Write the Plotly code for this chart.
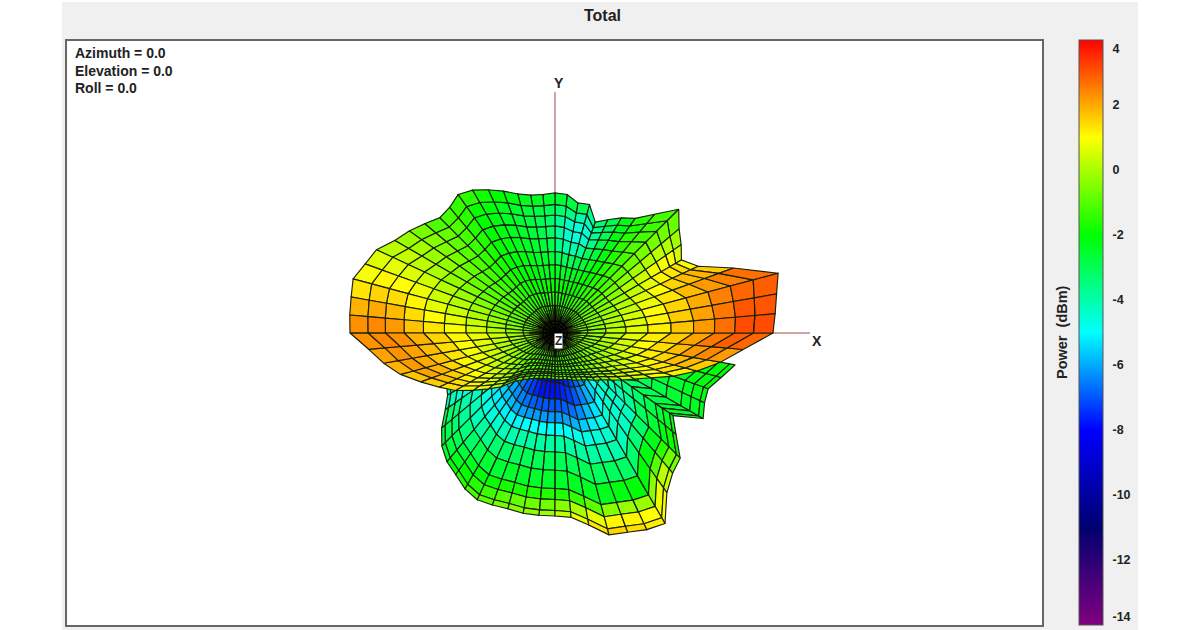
import plotly.graph_objects as go
from plotly.colors import sample_colorscale
import math

W, H = 1200, 630
CX, CY = 555, 333          # pixel position of the pattern origin
PLOT_L, PLOT_R, PLOT_T, PLOT_B = 67, 1042, 41, 625

CMIN, CMAX = -14.0, 4.0
stops = [(-14, "#800080"), (-11, "#000070"), (-8, "#0000ff"), (-5, "#00ffff"),
         (-2, "#00ff00"), (1, "#ffff00"), (4, "#ff0000")]

tick_vals = [3.75, 2, 0, -2, -4, -6, -8, -10, -12, -13.75]
tick_text = ["4", "2", "0", "-2", "-4", "-6", "-8", "-10", "-12", "-14"]

# ---- front hemisphere: outline radius at each azimuth step (5 deg) ----
front_az = list(range(0, 360, 5))
front_radius = [218, 221, 225, 231, 190, 158, 146, 154, 162, 175, 155, 140,
                133, 125, 118, 133, 132, 139, 140, 139, 140, 144, 151, 158,
                165, 169, 164, 163, 170, 178, 185, 197, 202, 209, 207, 206,
                205, 187, 174, 160, 143, 128, 115, 100, 87, 76, 63, 57,
                53, 50, 48, 47, 46, 46, 46, 47, 47, 48, 50, 52,
                54, 57, 62, 66, 73, 82, 92, 106, 126, 147, 168, 189]
# the same lobe without its jags: the inner rings follow this one
front_smooth = [218, 218, 212, 205, 195, 186, 178, 173, 171, 168, 160, 152,
                146, 141, 138, 136, 136, 138, 140, 140, 141, 144, 151, 158,
                163, 167, 165, 165, 170, 178, 185, 193, 200, 205, 207, 206,
                205, 187, 174, 160, 143, 128, 115, 100, 87, 76, 63, 57,
                53, 50, 48, 47, 46, 46, 46, 47, 47, 48, 50, 52,
                54, 57, 62, 66, 73, 82, 92, 106, 126, 147, 168, 189]
front_rings = [0, .085, .175, .265, .36, .46, .56, .66, .75, .835, .915, 1]
ring_weight = [0, .3, .4, .5, .6, .7, .8, .85, .9, .95, .98, 1]
jag_weight = [0, 0, 0, 0, 0, .05, .15, .3, .45, .6, .8, 1]

front_power = [
 [-.8,-.6,-.3,.2,.7,1.2,1.7,2.2,2.7,3.1,3.1],
 [-.8,-.6,-.3,.1,.6,1.1,1.6,2.1,2.6,3.0,3.0],
 [-.8,-.7,-.4,0,.5,1,1.5,2,2.5,2.8,2.9],
 [-.8,-.8,-.5,-.1,.3,.8,1.3,1.8,2.2,2.5,2.7],
 [-.9,-.8,-.6,-.3,.1,.6,1,1.5,1.8,1.9,1.6],
 [-1,-.9,-.8,-.5,-.1,.3,.7,1.1,1.3,1.4,1.0],
 [-1.1,-1,-.9,-.7,-.4,.1,.4,.8,.9,.9,.5],
 [-1.1,-1.1,-1.1,-.9,-.7,-.4,-.1,.1,.2,.1,-.1],
 [-1.1,-1.2,-1.2,-1.2,-1.1,-.9,-.7,-.6,-.6,-.7,-.8],
 [-1.1,-1.2,-1.3,-1.4,-1.4,-1.3,-1.2,-1.1,-1.2,-1.3,-1.2],
 [-1.2,-1.3,-1.4,-1.5,-1.6,-1.6,-1.6,-1.5,-1.6,-1.7,-1.5],
 [-1.2,-1.3,-1.5,-1.7,-1.9,-2,-2.1,-2.2,-2.2,-2.3,-2.2],
 [-1.3,-1.4,-1.6,-1.9,-2.1,-2.3,-2.6,-2.8,-3,-3.1,-2.9],
 [-1.3,-1.4,-1.7,-2,-2.2,-2.6,-3.1,-3.6,-3.8,-3.7,-3.3],
 [-1.3,-1.5,-1.8,-2,-2.3,-2.9,-3.7,-4.4,-4.6,-4.3,-3.7],
 [-1.3,-1.5,-1.8,-2,-2.3,-3.1,-4.1,-4.7,-4.6,-4,-3],
 [-1.3,-1.5,-1.8,-2,-2.4,-3.1,-4,-4.5,-4.4,-3.6,-2.8],
 [-1.3,-1.5,-1.8,-2,-2.4,-3,-3.6,-3.9,-3.8,-3.3,-2.6],
 [-1.3,-1.5,-1.8,-2,-2.3,-2.6,-2.9,-3.2,-3.3,-3,-2.5],
 [-1.3,-1.5,-1.8,-2,-2.3,-2.5,-2.7,-2.9,-3,-2.8,-2.4],
 [-1.3,-1.5,-1.8,-2,-2.2,-2.4,-2.6,-2.7,-2.8,-2.7,-2.3],
 [-1.3,-1.5,-1.8,-2,-2.1,-2.3,-2.4,-2.5,-2.6,-2.5,-2.2],
 [-1.3,-1.5,-1.7,-1.9,-2,-2.2,-2.3,-2.4,-2.4,-2.3,-2],
 [-1.3,-1.4,-1.7,-1.9,-2,-2.1,-2.1,-2.2,-2.2,-2.1,-1.8],
 [-1.3,-1.4,-1.6,-1.8,-1.9,-2,-2,-2,-2,-1.9,-1.5],
 [-1.2,-1.3,-1.5,-1.6,-1.7,-1.7,-1.7,-1.6,-1.6,-1.5,-1.4],
 [-1.2,-1.3,-1.4,-1.5,-1.5,-1.5,-1.4,-1.3,-1.2,-1.1,-1.2],
 [-1.1,-1.2,-1.3,-1.3,-1.3,-1.2,-1.1,-1,-.9,-.8,-1.1],
 [-1.1,-1.1,-1.2,-1.2,-1.1,-1,-.8,-.6,-.5,-.4,-.6],
 [-1,-1,-1.1,-1.1,-1,-.8,-.5,-.3,-.2,-.1,-.2],
 [-1,-1,-1,-.9,-.8,-.5,-.3,0,.2,.3,.2],
 [-1,-.9,-.9,-.8,-.5,-.2,.1,.4,.6,.7,.6],
 [-.9,-.9,-.8,-.5,-.2,.1,.4,.8,1,1.1,.9],
 [-.9,-.8,-.6,-.3,0,.4,.7,1.1,1.4,1.5,1.3],
 [-.8,-.7,-.4,-.1,.3,.7,1,1.4,1.8,2,1.9],
 [-.8,-.6,-.3,.1,.5,.9,1.3,1.7,2.2,2.4,2.3],
 [-.8,-.5,-.1,.4,.8,1.1,1.5,1.9,2.3,2.4,2.3],
 [-.8,-.5,-.2,.3,.7,1,1.4,1.8,2.1,2.3,2.1],
 [-.8,-.6,-.3,.1,.5,.9,1.3,1.7,2,2.2,1.9],
 [-.8,-.7,-.4,0,.4,.8,1.1,1.5,1.9,2.1,1.7],
 [-.9,-.8,-.5,-.1,.2,.6,.9,1.3,1.6,1.8,1.6],
 [-1,-.9,-.6,-.3,0,.3,.7,1,1.2,1.4,1.4],
 [-1,-.9,-.7,-.4,-.1,.2,.5,.7,.9,1.1,1.2],
 [-1.1,-1,-.9,-.7,-.4,-.2,.1,.3,.5,.6,.7],
 [-1.1,-1.1,-1,-.9,-.7,-.5,-.3,-.1,0,.1,.2],
 [-1.1,-1.2,-1.1,-1,-.9,-.8,-.6,-.5,-.4,-.3,-.3],
 [-1.2,-1.2,-1.2,-1.1,-1.1,-1,-1,-.9,-.8,-.7,-.7],
 [-1.2,-1.2,-1.3,-1.3,-1.2,-1.2,-1.1,-1,-1,-.9,-.9],
 [-1.2,-1.3,-1.3,-1.3,-1.3,-1.2,-1.2,-1.1,-1.1,-1,-1],
 [-1.3,-1.3,-1.4,-1.4,-1.3,-1.3,-1.2,-1.2,-1.1,-1.1,-1],
 [-1.3,-1.3,-1.4,-1.4,-1.4,-1.3,-1.3,-1.2,-1.2,-1.1,-1],
 [-1.3,-1.3,-1.4,-1.5,-1.4,-1.3,-1.3,-1.2,-1.2,-1.1,-1],
 [-1.3,-1.3,-1.4,-1.5,-1.4,-1.4,-1.3,-1.2,-1.2,-1.1,-1],
 [-1.3,-1.3,-1.4,-1.5,-1.4,-1.4,-1.3,-1.2,-1.2,-1.1,-1],
 [-1.3,-1.3,-1.4,-1.5,-1.4,-1.3,-1.3,-1.2,-1.1,-1.1,-1],
 [-1.3,-1.3,-1.4,-1.4,-1.4,-1.3,-1.2,-1.2,-1.1,-1,-.9],
 [-1.3,-1.3,-1.4,-1.4,-1.3,-1.3,-1.2,-1.1,-1.1,-1,-.9],
 [-1.2,-1.2,-1.3,-1.3,-1.3,-1.2,-1.2,-1.1,-1,-1,-.9],
 [-1.2,-1.2,-1.3,-1.3,-1.2,-1.2,-1.1,-1.1,-1,-.9,-.9],
 [-1.2,-1.2,-1.2,-1.2,-1.2,-1.1,-1.1,-1,-1,-.9,-.8],
 [-1.2,-1.1,-1.1,-1.1,-1,-1,-.9,-.9,-.9,-.8,-.8],
 [-1.2,-1.1,-1.1,-1,-1,-.9,-.8,-.7,-.7,-.6,-.6],
 [-1.1,-1.1,-1,-1,-.9,-.8,-.6,-.5,-.5,-.4,-.4],
 [-1.1,-1,-.9,-.8,-.7,-.5,-.4,-.3,-.3,-.2,-.2],
 [-1.1,-1,-.9,-.7,-.5,-.3,-.2,0,0,.1,.1],
 [-1,-1,-.8,-.6,-.4,-.2,0,.2,.3,.4,.3],
 [-1,-.9,-.7,-.5,-.3,0,.2,.4,.6,.6,.5],
 [-1,-.9,-.6,-.4,-.1,.2,.5,.7,.9,1,.9],
 [-.9,-.8,-.5,-.2,.1,.5,.8,1.1,1.3,1.4,1.2],
 [-.9,-.7,-.4,-.1,.4,.8,1.2,1.5,1.8,1.8,1.6],
 [-.9,-.7,-.3,.1,.5,1,1.4,1.8,2.2,2.4,2.2],
 [-.8,-.6,-.3,.2,.7,1.2,1.6,2.1,2.6,2.9,2.8],
]

# ---- back hemisphere seen below the front lobe ----
back_az = list(range(205, 355, 5))
back_radius = [120, 124, 134, 148, 160, 168, 173, 180, 184, 183,
               182, 183, 183, 183, 185, 195, 209, 212, 217, 220,
               195, 183, 177, 158, 144, 171, 165, 163, 172, 183]
back_rings = [.2, .27, .36, .43, .49, .56, .65, .75, .85, .91, .97, 1]
back_power = [
 [-6,-6,-5.8,-5.6,-5.4,-5.2,-5,-4.8,-4.6,-4.4,-4.2],
 [-6,-6,-5.8,-5.6,-5.4,-5.2,-5,-4.8,-4.5,-4.3,-4],
 [-6,-6,-5.5,-5.3,-5,-4.7,-4.3,-4,-3.5,-3.2,-3],
 [-6,-6,-5.7,-5.4,-5.1,-4.7,-4.2,-3.8,-3.3,-3,-2.7],
 [-6,-6,-5.8,-5.5,-5.2,-4.7,-4.2,-3.5,-3,-2.7,-2.4],
 [-6.3,-6.3,-6,-5.7,-5.3,-4.6,-3.9,-3.2,-2.7,-2.3,-2],
 [-6.7,-6.6,-6.3,-5.8,-5.2,-4.4,-3.6,-2.9,-2.4,-2,-1.6],
 [-7,-7,-6.5,-6,-5.1,-4.2,-3.3,-2.6,-2.1,-1.6,-1.2],
 [-7.5,-7.3,-6.7,-6.1,-5.1,-4.1,-3.2,-2.6,-1.9,-1.3,-.9],
 [-7.8,-7.6,-6.9,-6.2,-5,-4,-3.1,-2.5,-1.8,-1,-.6],
 [-8,-7.8,-7,-6.2,-5,-3.9,-3,-2.5,-1.7,-.8,-.4],
 [-8,-7.8,-7,-6.2,-5,-3.9,-3,-2.5,-1.6,-.7,-.3],
 [-8,-7.8,-7,-6.2,-5,-3.9,-3,-2.5,-1.6,-.7,-.2],
 [-8,-7.8,-7,-6.2,-5,-3.9,-3,-2.5,-1.6,-.4,.2],
 [-7.8,-7.6,-6.9,-6.1,-4.9,-3.9,-3,-2.4,-1.4,0,.8],
 [-7.6,-7.4,-6.7,-5.9,-4.8,-3.9,-3,-2.4,-.9,.7,1.3],
 [-7.3,-7,-6.4,-5.6,-4.7,-3.9,-3.1,-2.3,-.4,1.1,1.5],
 [-6.8,-6.5,-5.8,-5.2,-4.6,-4,-3.1,-2.2,-.2,1.1,1.4],
 [-6.3,-5.9,-5.3,-4.8,-4.4,-4,-3.2,-2.1,-.2,1,1.2],
 [-6,-5.5,-5,-4.5,-4.4,-4.2,-3.3,-2.1,-.4,.8,1],
 [-5.5,-5,-4.6,-4.4,-4.5,-4.3,-3.4,-2.2,-1,.2,.4],
 [-5,-4.6,-4.4,-4.4,-4.5,-4.2,-3.2,-2.3,-1.5,-.7,-.7],
 [-4.6,-4.4,-4.3,-4.3,-4.2,-3.8,-3.1,-2.6,-2.2,-1.9,-1.8],
 [-4.5,-4.3,-4.2,-4.1,-3.9,-3.6,-3.3,-2.9,-2.6,-2.4,-2.3],
 [-4.4,-4.2,-4,-3.8,-3.6,-3.3,-3,-2.8,-2.6,-2.5,-2.4],
 [-4.3,-4,-3.7,-3.5,-3.2,-3,-2.8,-2.6,-2.5,-2.4,-2.3],
 [-4.2,-3.9,-3.5,-3.3,-3,-2.8,-2.6,-2.5,-2.4,-2.3,-2.2],
 [-4,-3.7,-3.3,-3.1,-2.9,-2.7,-2.5,-2.4,-2.3,-2.2,-2.1],
 [-3.8,-3.5,-3.1,-2.9,-2.7,-2.5,-2.4,-2.3,-2.2,-2.1,-2],
]

# the black knot at the origin, where the mesh lines pile up
knot_ring_radius = [3, 6, 9, 12]
knot_spike_az = [0, 22, 45, 68, 90, 112, 135, 158, 180, 202, 225, 248, 270, 292, 315, 338]
knot_spike_len = [26, 19, 22, 18, 28, 20, 22, 19, 26, 20, 20, 18, 24, 18, 20, 19]

axis_x_len = 255
axis_y_len = 241
info_lines = ["Azimuth = 0.0", "Elevation = 0.0", "Roll = 0.0"]

# ---- helpers ----
colorscale = [[(v - CMIN) / (CMAX - CMIN), c] for v, c in stops]
def color_of(v):
    t = min(1, max(0, (v - CMIN) / (CMAX - CMIN)))
    return sample_colorscale(colorscale, [t])[0]

def node(az, r):
    a = math.radians(az)
    return r * math.cos(a), r * math.sin(a)

REF = 170
def front_r(i, j):
    j %= 72
    jw = jag_weight[i]
    b = front_radius[j] ** jw * front_smooth[j] ** (1 - jw)
    w = ring_weight[i]
    return front_rings[i] * b ** w * REF ** (1 - w)

MESH = "#18200c"
def add_groups(fig, groups):
    for v in sorted(groups):
        xs, ys = groups[v]
        fig.add_trace(go.Scatter(
            x=xs, y=ys, mode="lines", fill="toself", fillcolor=color_of(v),
            line=dict(color=MESH, width=1.15), hoverinfo="skip", showlegend=False))

def push(groups, v, pts):
    g = groups.setdefault(round(v, 1), ([], []))
    for p in pts + [pts[0]]:
        g[0].append(p[0]); g[1].append(p[1])
    g[0].append(None); g[1].append(None)

fig = go.Figure()

# colour bar carrier
fig.add_trace(go.Scatter(
    x=[0], y=[0], mode="markers", hoverinfo="skip", showlegend=False,
    marker=dict(size=1, opacity=0, color=[0], colorscale=colorscale, cmin=CMIN, cmax=CMAX,
                showscale=True,
                colorbar=dict(x=1079 / W, xanchor="left", xpad=0, ypad=0,
                              y=1 - 332.5 / H, yanchor="middle", len=585 / H, lenmode="fraction",
                              thickness=24, thicknessmode="pixels",
                              outlinecolor="#555555", outlinewidth=1,
                              tickmode="array", tickvals=tick_vals, ticktext=tick_text,
                              ticks="outside", ticklen=7, tickcolor="rgba(0,0,0,0)",
                              tickfont=dict(family="Liberation Sans", size=12.5, color="#222222", weight="bold")))))

# coordinate axes
fig.add_trace(go.Scatter(x=[0, axis_x_len], y=[0, 0], mode="lines",
                         line=dict(color="#a84848", width=1), hoverinfo="skip", showlegend=False))
fig.add_trace(go.Scatter(x=[0, 0], y=[0, axis_y_len], mode="lines",
                         line=dict(color="#a84848", width=1), hoverinfo="skip", showlegend=False))

# back lobe
groups = {}
for j in range(len(back_az) - 1):
    for i in range(len(back_rings) - 1):
        a0, a1 = back_az[j], back_az[j + 1]
        r00 = back_rings[i] * back_radius[j]
        r01 = back_rings[i] * back_radius[j + 1]
        r10 = back_rings[i + 1] * back_radius[j]
        r11 = back_rings[i + 1] * back_radius[j + 1]
        push(groups, back_power[j][i], [node(a0, r00), node(a1, r01), node(a1, r11), node(a0, r10)])
add_groups(fig, groups)

# front lobe
groups = {}
for j in range(72):
    for i in range(11):
        a0, a1 = front_az[j], front_az[j] + 5
        push(groups, front_power[j][i],
             [node(a0, front_r(i, j)), node(a1, front_r(i, j + 1)),
              node(a1, front_r(i + 1, j + 1)), node(a0, front_r(i + 1, j))])
add_groups(fig, groups)

# knot at the origin
kx, ky = [], []
for r in knot_ring_radius:
    for az in front_az + [0]:
        p = node(az, r)
        kx.append(p[0]); ky.append(p[1])
    kx.append(None); ky.append(None)
for az, l in zip(knot_spike_az, knot_spike_len):
    p = node(az, l)
    kx += [0, p[0], None]; ky += [0, p[1], None]
fig.add_trace(go.Scatter(x=kx, y=ky, mode="lines", line=dict(color="#000000", width=1.4),
                         hoverinfo="skip", showlegend=False))

def px(x): return x / W
def py(y): return 1 - y / H

ann = [dict(text="<b>Total</b>", x=px(603), y=py(15), font=dict(size=16)),
       dict(text="<b>Power  (dBm)</b>", x=px(1062), y=py(332), textangle=-90, font=dict(size=14.5)),
       dict(text="<b>Y</b>", x=px(559), y=py(83), font=dict(size=14)),
       dict(text="<b>X</b>", x=px(817), y=py(341), font=dict(size=14)),
       dict(text="<b>Z</b>", x=px(558), y=py(341), font=dict(size=12), bgcolor="#ffffff", borderpad=0)]
for k, t in enumerate(info_lines):
    ann.append(dict(text="<b>" + t + "</b>", x=px(73), y=py(53 + 17.5 * k), xanchor="left",
                    font=dict(size=14)))
for a in ann:
    a.update(xref="paper", yref="paper", showarrow=False)
    a.setdefault("xanchor", "center")
    a["yanchor"] = "middle"
    a["font"].update(family="Liberation Sans", color="#222222")

strip = dict(type="rect", xref="paper", yref="paper", layer="below", fillcolor="#ffffff", line_width=0)
shapes = [dict(strip, x0=0, x1=px(62), y0=0, y1=1),
          dict(strip, x0=px(1138), x1=1, y0=0, y1=1),
          dict(strip, x0=0, x1=1, y0=py(2), y1=1)]

axis_style = dict(showgrid=False, zeroline=False, showticklabels=False, ticks="",
                  showline=True, mirror=True, linecolor="#666666", linewidth=1.5, fixedrange=True)
fig.update_layout(
    width=W, height=H, margin=dict(l=0, r=0, t=0, b=0), autosize=False,
    paper_bgcolor="#f0f0f0", plot_bgcolor="#ffffff", showlegend=False,
    xaxis=dict(axis_style, domain=[PLOT_L / W, PLOT_R / W], range=[PLOT_L - CX, PLOT_R - CX]),
    yaxis=dict(axis_style, domain=[1 - PLOT_B / H, 1 - PLOT_T / H], range=[CY - PLOT_B, CY - PLOT_T]),
    annotations=ann, shapes=shapes)

fig.write_html("out.html", config=dict(displayModeBar=False),
               post_script="document.body.style.margin='0';")
